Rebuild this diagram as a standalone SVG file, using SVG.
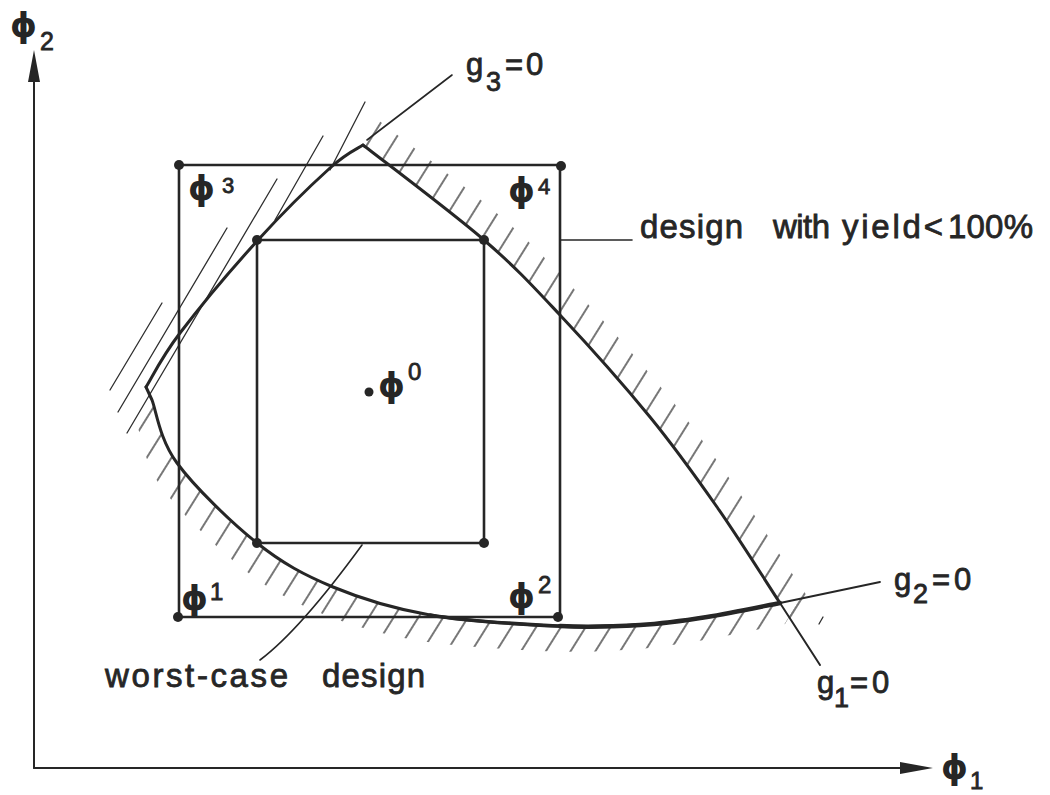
<svg xmlns="http://www.w3.org/2000/svg" width="1050" height="795" viewBox="0 0 1050 795">
<style>
.ln{fill:none;stroke:#262626;stroke-linecap:round;stroke-linejoin:round}
.rect{stroke-width:2.6}
.crv{stroke-width:3}
.thin{stroke-width:1.6}
.hl{stroke:#2e2e2e;stroke-width:1.3;fill:none;stroke-linecap:round}
.dot{fill:#262626}
.t{font-family:"Liberation Sans","DejaVu Sans",sans-serif;fill:#262626;stroke:#262626;stroke-width:0.8}
.phi{font-family:"DejaVu Sans","Liberation Sans",sans-serif;font-weight:bold;font-size:34px;fill:#262626}
</style>
<defs>
<pattern id="hatch" patternUnits="userSpaceOnUse" width="21" height="60" patternTransform="rotate(32)">
<line x1="10" y1="-5" x2="10" y2="65" stroke="#2e2e2e" stroke-width="1.3"/>
</pattern>
<clipPath id="bandG1">
<path d="M363,145 C383.2,160.8 451.2,211.7 484,240 C516.8,268.3 532.3,285.5 560,315 C587.7,344.5 623.8,385 650,417 C676.2,449 695.3,476 717,507 C738.7,538 762.8,576.7 780,603 L792,621 L807,596 L795,578 C777.8,551.7 753.7,513 732,482 C710.3,451 691.2,424 665,392 C638.8,360 602.7,319.5 575,290 C547.3,260.5 531.8,243.3 499,215 C466.2,186.7 398.2,135.8 378,120 Z"/>
</clipPath>
<clipPath id="bandG2">
<path d="M148,388 L152,400 C156.2,410.5 159.5,439.2 177,463 C194.5,486.8 231,522.3 257,543 C283,563.7 304.2,575 333,587 C361.8,599 392.7,608.5 430,615 C467.3,621.5 522,624.3 557,626 C592,627.7 615,626.5 640,625 C665,623.5 683.7,620.7 707,617 C730.3,613.3 767.8,605.3 780,603 L800,599 L785,624 L765,628 C752.8,630.3 715.3,638.3 692,642 C668.7,645.7 650,648.5 625,650 C600,651.5 577,652.7 542,651 C507,649.3 452.3,646.5 415,640 C377.7,633.5 346.8,624 318,612 C289.2,600 268,588.7 242,568 C216,547.3 179.5,511.8 162,488 C144.5,464.2 141.2,435.5 137,425 L133,413 Z"/>
</clipPath>
</defs>
<rect x="0" y="0" width="1050" height="795" fill="#ffffff"/>

<g id="axes">
<line class="ln" style="stroke-width:2" x1="34" y1="80" x2="34" y2="768"/>
<line class="ln" style="stroke-width:2" x1="34" y1="768" x2="905" y2="768"/>
<polygon class="dot" points="34,50 28,82 40,82"/>
<polygon class="dot" points="933,768 900,762 900,774"/>
<text class="phi" x="10" y="37">ϕ</text>
<text class="t" x="40" y="50" font-size="25">2</text>
<text class="phi" x="941" y="779">ϕ</text>
<text class="t" x="970" y="789" font-size="24">1</text>
</g>

<g id="hatching">
<rect x="100" y="100" width="750" height="600" fill="url(#hatch)" clip-path="url(#bandG1)"/>
<rect x="100" y="100" width="750" height="600" fill="url(#hatch)" clip-path="url(#bandG2)"/>
<line class="hl" x1="110" y1="390" x2="162" y2="303"/>
<line class="hl" x1="118" y1="412" x2="227" y2="228"/>
<line class="hl" x1="127" y1="433" x2="277" y2="179"/>
<line class="hl" x1="275" y1="220" x2="323" y2="136"/>
<line class="hl" x1="330" y1="170" x2="365" y2="102"/>
<line class="hl" x1="819" y1="624" x2="823" y2="617"/>
</g>

<g id="constraints">
<path id="g3" class="ln crv" d="M146,387 C151.7,378 161.3,357.5 180,333 C198.7,308.5 233,267.5 258,240 C283,212.5 312.5,183.8 330,168 C347.5,152.2 357.5,148.8 363,145"/>
<path id="g1" class="ln crv" d="M363,145 C383.2,160.8 451.2,211.7 484,240 C516.8,268.3 532.3,285.5 560,315 C587.7,344.5 623.8,385 650,417 C676.2,449 695.3,476 717,507 C738.7,538 762.8,576.7 780,603"/>
<line class="ln" style="stroke-width:2" x1="780" y1="603" x2="820" y2="665"/>
<path id="g2" class="ln crv" d="M146,387 L152,400 C156.2,410.5 159.5,439.2 177,463 C194.5,486.8 231,522.3 257,543 C283,563.7 304.2,575 333,587 C361.8,599 392.7,608.5 430,615 C467.3,621.5 522,624.3 557,626 C592,627.7 615,626.5 640,625 C665,623.5 683.7,620.7 707,617 C730.3,613.3 767.8,605.3 780,603"/>
<path class="ln" style="stroke-width:3.6" d="M430,615 C467.3,621.5 522,624.3 557,626 C592,627.7 615,626.5 640,625"/>
<path class="ln" style="stroke-width:4.4" d="M560,626 C592,627.7 615,626.5 640,625 C665,623.5 683.7,620.7 707,617 C730.3,613.3 767.8,605.3 780,603"/>
<line class="ln" style="stroke-width:1.8" x1="780" y1="603" x2="880" y2="582"/>
</g>

<g id="outer-box">
<rect class="ln rect" x="179" y="165" width="381" height="452"/>
<circle class="dot" cx="179" cy="165" r="5"/>
<circle class="dot" cx="561" cy="166" r="5"/>
<circle class="dot" cx="178" cy="617" r="5"/>
<circle class="dot" cx="558" cy="617" r="5"/>
</g>

<g id="inner-box">
<rect class="ln rect" x="257" y="240" width="227" height="303"/>
<circle class="dot" cx="257" cy="240" r="5"/>
<circle class="dot" cx="484" cy="240" r="5"/>
<circle class="dot" cx="257" cy="543" r="5"/>
<circle class="dot" cx="484" cy="543" r="5"/>
</g>

<g id="center">
<circle class="dot" cx="369" cy="392" r="4.5"/>
<text class="phi" x="378" y="397">ϕ</text>
<text class="t" x="408" y="380" font-size="24">0</text>
</g>

<g id="corner-labels">
<text class="phi" x="188" y="200">ϕ</text>
<text class="t" x="222" y="193" font-size="22">3</text>
<text class="phi" x="508" y="202">ϕ</text>
<text class="t" x="538" y="194" font-size="22">4</text>
<text class="phi" x="181" y="610">ϕ</text>
<text class="t" x="210" y="600" font-size="24">1</text>
<text class="phi" x="508" y="608">ϕ</text>
<text class="t" x="538" y="593" font-size="24">2</text>
</g>

<g id="leaders">
<line class="ln thin" x1="367" y1="140" x2="452" y2="75"/>
<line class="ln thin" x1="561" y1="240" x2="632" y2="240"/>
<path class="ln thin" d="M260,660 Q300,630 362,545"/>
</g>

<g id="labels">
<text class="t" font-size="31"><tspan x="466" y="75">g</tspan><tspan x="486" y="91" font-size="27">3</tspan><tspan x="505" y="75">=</tspan><tspan x="526" y="75">0</tspan></text>
<text class="t" font-size="31"><tspan x="894" y="590">g</tspan><tspan x="913" y="603" font-size="27">2</tspan><tspan x="932" y="590">=</tspan><tspan x="954" y="590">0</tspan></text>
<text class="t" font-size="31"><tspan x="817" y="693">g</tspan><tspan x="834" y="707" font-size="27">1</tspan><tspan x="850" y="693">=</tspan><tspan x="872" y="693">0</tspan></text>
<text class="t" font-size="33"><tspan x="640" y="238" textLength="103">design</tspan><tspan x="773" y="238" textLength="57">with</tspan><tspan x="842" y="238" textLength="101">yield&lt;</tspan><tspan x="948" y="238" textLength="85">100%</tspan></text>
<text class="t" font-size="33"><tspan x="105" y="687" textLength="183">worst-case</tspan><tspan x="322" y="687" textLength="103">design</tspan></text>
</g>
</svg>
